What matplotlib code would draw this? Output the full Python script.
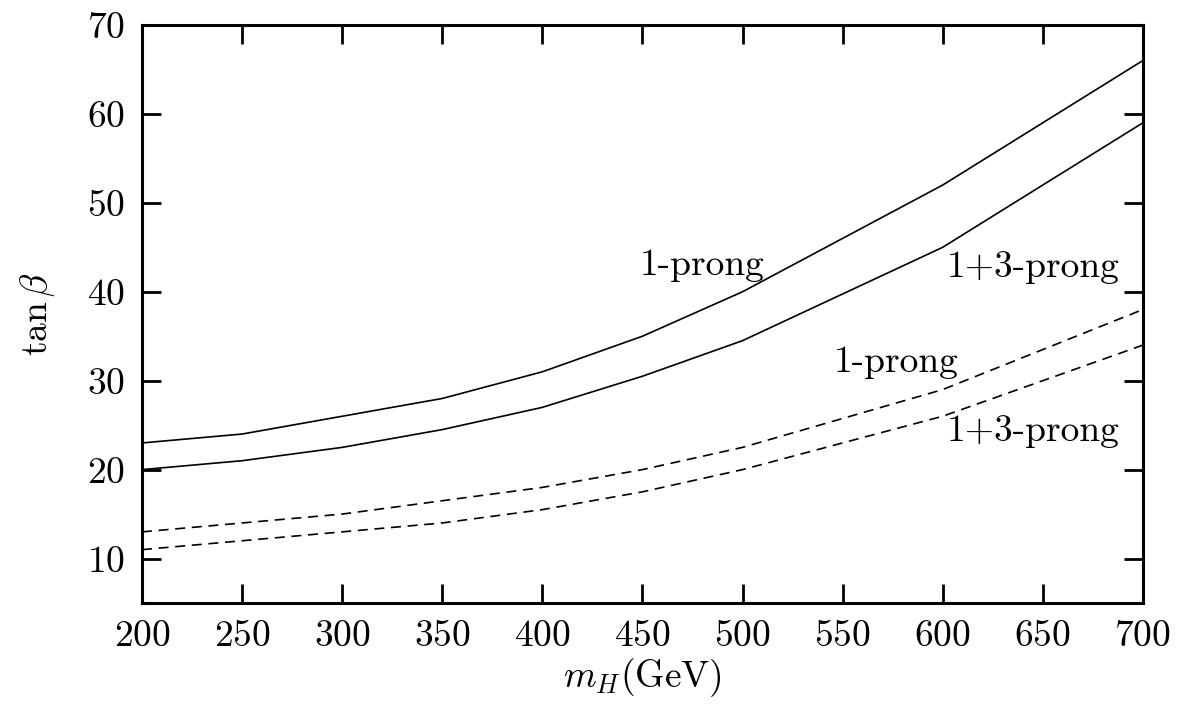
import matplotlib
matplotlib.use("Agg")
import matplotlib.pyplot as plt

plt.rcParams['font.family'] = 'serif'
plt.rcParams['font.serif'] = ['cmr10']
plt.rcParams['mathtext.fontset'] = 'cm'
plt.rcParams['axes.formatter.use_mathtext'] = True

# Higgs mass (GeV)
m_h = [200, 250, 300, 350, 400, 450, 500, 600, 700]

# tan beta curves
solid_1prong = [23, 24, 26, 28, 31, 35, 40, 52, 66]
solid_13prong = [20, 21, 22.5, 24.5, 27, 30.5, 34.5, 45, 59]
dashed_1prong = [13, 14, 15, 16.5, 18, 20, 22.5, 29, 38]
dashed_13prong = [11, 12, 13, 14, 15.5, 17.5, 20, 26, 34]

fig = plt.figure(figsize=(11.88, 7.08), dpi=100)
ax = fig.add_axes([0.1195, 0.1483, 0.8425, 0.8164])

ax.plot(m_h, solid_1prong, color='black', lw=1.2)
ax.plot(m_h, solid_13prong, color='black', lw=1.2)
ax.plot(m_h, dashed_1prong, color='black', lw=1.2, dashes=(6, 4))
ax.plot(m_h, dashed_13prong, color='black', lw=1.2, dashes=(6, 4))

fs = 27
ax.text(480, 43, '1-prong', fontsize=fs, ha='center', va='center')
ax.text(645, 42.7, '1+3-prong', fontsize=fs, ha='center', va='center')
ax.text(577, 32.1, '1-prong', fontsize=fs, ha='center', va='center')
ax.text(645, 24.3, '1+3-prong', fontsize=fs, ha='center', va='center')

ax.set_xlim(200, 700)
ax.set_ylim(5, 70)
ax.set_xticks(range(200, 701, 50))
ax.set_yticks(range(10, 71, 10))
ax.tick_params(direction='in', length=14, width=2, labelsize=fs,
               top=True, right=True, pad=12)
for sp in ax.spines.values():
    sp.set_linewidth(2.2)

ax.set_xlabel(r'$m_H$(GeV)', fontsize=fs, labelpad=2)
ax.set_ylabel(r'$\tan\beta$', fontsize=fs, labelpad=22)

fig.savefig('out.png', dpi=100)
